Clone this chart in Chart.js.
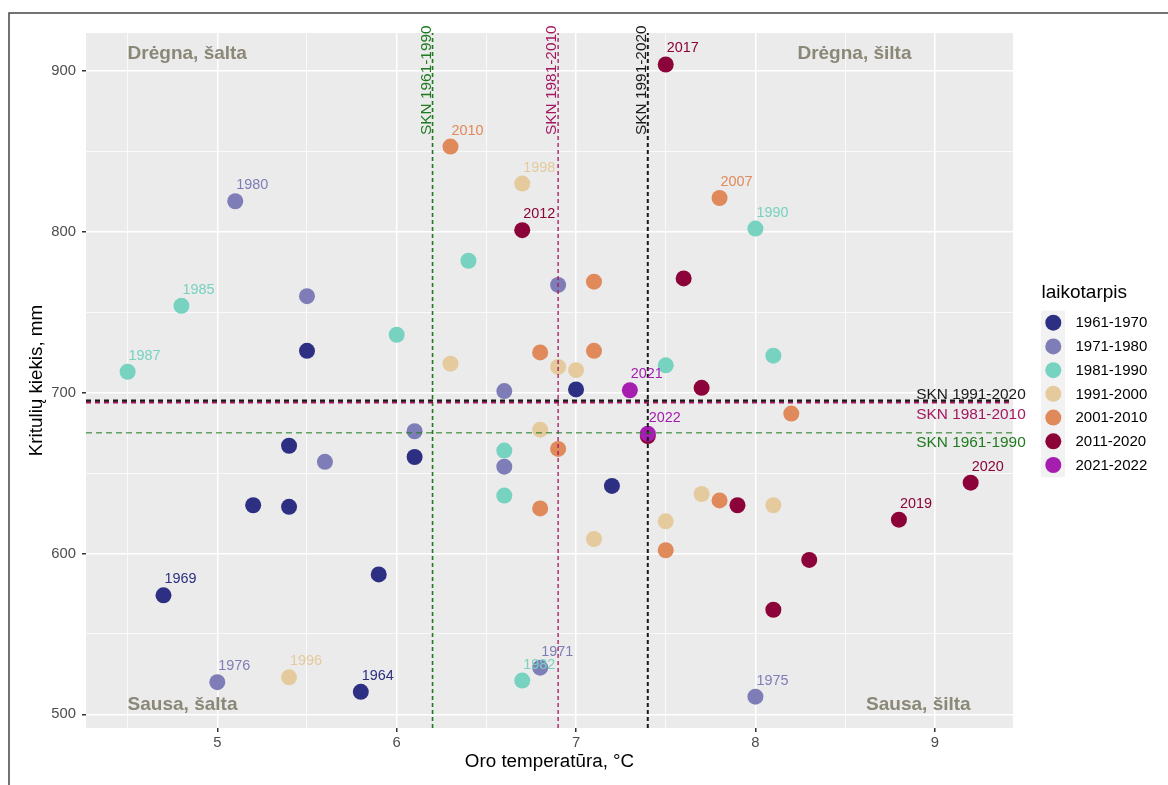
<!DOCTYPE html>
<html>
<head>
<meta charset="utf-8">
<script src="https://cdn.jsdelivr.net/npm/chart.js@4.4.1/dist/chart.umd.min.js"></script>
<style>
  html, body { margin: 0; padding: 0; background: #ffffff; }
  canvas { display: block; }
</style>
</head>
<body>
<canvas id="chart" width="1168" height="785"></canvas>
<script>
const FONT = '"Liberation Sans", Arial, Helvetica, sans-serif';

// Periods (decades) and their colours
const periods = ['1961-1970', '1971-1980', '1981-1990', '1991-2000', '2001-2010', '2011-2020', '2021-2022'];
const periodColors = ['#2C2F82', '#7E7DB7', '#77D2BF', '#E4CA9C', '#E0895A', '#8C0339', '#A51EB0'];

// Annual mean air temperature (°C), annual precipitation (mm), printed year labels
const temp6170 = [5.5, 5.4, 5.2, 5.4, 6.1, 7.0, 7.2, 4.7, 5.9, 5.8];
const prcp6170 = [726, 667, 630, 629, 660, 702, 642, 574, 587, 514];
const year6170 = ['', '', '', '', '', '', '', '1969', '', '1964'];

const temp7180 = [5.1, 5.5, 6.9, 6.6, 6.1, 5.6, 6.6, 5.0, 6.8, 8.0];
const prcp7180 = [819, 760, 767, 701, 676, 657, 654, 520, 529, 511];
const year7180 = ['1980', '', '', '', '', '', '', '1976', '1971', '1975'];

const temp8190 = [4.8, 4.5, 6.0, 6.4, 8.0, 7.5, 8.1, 6.6, 6.6, 6.7];
const prcp8190 = [754, 713, 736, 782, 802, 717, 723, 664, 636, 521];
const year8190 = ['1985', '1987', '', '', '1990', '', '', '', '', '1982'];

const temp9100 = [6.7, 6.3, 6.9, 7.0, 6.8, 7.7, 8.1, 7.5, 7.1, 5.4];
const prcp9100 = [830, 718, 716, 714, 677, 637, 630, 620, 609, 523];
const year9100 = ['1998', '', '', '', '', '', '', '', '', '1996'];

const temp0110 = [6.3, 7.8, 7.1, 7.1, 6.8, 6.9, 6.8, 7.8, 8.2, 7.5];
const prcp0110 = [853, 821, 769, 726, 725, 665, 628, 633, 687, 602];
const year0110 = ['2010', '2007', '', '', '', '', '', '', '', ''];

const temp1120 = [7.5, 6.7, 7.6, 7.7, 7.9, 7.4, 9.2, 8.8, 8.3, 8.1];
const prcp1120 = [904, 801, 771, 703, 630, 673, 644, 621, 596, 565];
const year1120 = ['2017', '2012', '', '', '', '', '2020', '2019', '', ''];

const temp2122 = [7.3, 7.4];
const prcp2122 = [701.5, 674.5];
const year2122 = ['2021', '2022'];

const temps = [temp6170, temp7180, temp8190, temp9100, temp0110, temp1120, temp2122];
const prcps = [prcp6170, prcp7180, prcp8190, prcp9100, prcp0110, prcp1120, prcp2122];
const years = [year6170, year7180, year8190, year9100, year0110, year1120, year2122];

// Climate standard normals (SKN)
const normalNames = ['SKN 1961-1990', 'SKN 1981-2010', 'SKN 1991-2020'];
const normalTemp = [6.2, 6.9, 7.4];
const normalPrcp = [675, 694, 695];
const normalColors = ['#1F7A1F', '#A3175F', '#1A1A1A'];

// Quadrant captions
const quadrantText = ['Drėgna, šalta', 'Drėgna, šilta', 'Sausa, šalta', 'Sausa, šilta'];

// Axis ranges
const X_MIN = 4.268, X_MAX = 9.436;
const Y_MIN = 491.5, Y_MAX = 923.6;

// ---- styling ----
const normalStyle = {
  v: [{ w: 1.6, dash: [4, 3] }, { w: 1.3, dash: [4, 3] }, { w: 2, dash: [4, 3] }],
  h: [{ w: 1, dash: [6, 4] }, { w: 2.2, dash: [5, 4] }, { w: 2.2, dash: [5, 4] }]
};

const datasets = [];
periods.forEach((p, i) => {
  datasets.push({
    type: 'scatter',
    label: p,
    data: temps[i].map((t, k) => ({ x: t, y: prcps[i][k] })),
    yearLabels: years[i],
    backgroundColor: periodColors[i],
    borderWidth: 0,
    pointRadius: 8,
    pointHoverRadius: 8,
    order: 20 - i
  });
});
normalNames.forEach((n, k) => {
  datasets.push({
    type: 'line', label: n + ' T', isNormal: true,
    data: [{ x: normalTemp[k], y: Y_MIN }, { x: normalTemp[k], y: Y_MAX }],
    borderColor: normalColors[k], borderWidth: normalStyle.v[k].w, borderDash: normalStyle.v[k].dash,
    pointRadius: 0, showLine: true, fill: false, order: 5 - k
  });
  datasets.push({
    type: 'line', label: n + ' P', isNormal: true,
    data: [{ x: X_MIN, y: normalPrcp[k] }, { x: X_MAX, y: normalPrcp[k] }],
    borderColor: normalColors[k], borderWidth: normalStyle.h[k].w, borderDash: normalStyle.h[k].dash,
    pointRadius: 0, showLine: true, fill: false, order: 2 - k
  });
});

const isWhole = (v, step) => Math.abs(v / step - Math.round(v / step)) < 1e-6;

const panelPlugin = {
  id: 'panel',
  beforeDraw(chart) {
    const { ctx, chartArea: a } = chart;
    ctx.save();
    ctx.fillStyle = '#EBEBEB';
    ctx.fillRect(a.left, a.top, a.right - a.left, a.bottom - a.top);
    ctx.restore();
  }
};

const annotationsPlugin = {
  id: 'annotations',
  beforeDatasetsDraw(chart) {
    const { ctx, scales: { x, y } } = chart;
    ctx.save();
    ctx.font = 'bold 19px ' + FONT;
    ctx.fillStyle = '#8B8878';
    ctx.textBaseline = 'middle';
    const spots = [
      { x: 4.5, y: 910.4, align: 'left' },
      { x: 8.87, y: 910.4, align: 'right' },
      { x: 4.5, y: 506.1, align: 'left' },
      { x: 9.2, y: 506.1, align: 'right' }
    ];
    quadrantText.forEach((t, i) => {
      ctx.textAlign = spots[i].align;
      ctx.fillText(t, x.getPixelForValue(spots[i].x), y.getPixelForValue(spots[i].y));
    });
    ctx.restore();
  },
  afterDatasetsDraw(chart) {
    const { ctx, scales: { x, y } } = chart;
    ctx.save();
    // year labels next to points
    ctx.font = '14.4px ' + FONT;
    ctx.textAlign = 'left';
    ctx.textBaseline = 'middle';
    chart.data.datasets.forEach((ds, di) => {
      if (!ds.yearLabels) return;
      const meta = chart.getDatasetMeta(di);
      ctx.fillStyle = ds.backgroundColor;
      meta.data.forEach((pt, k) => {
        const lab = ds.yearLabels[k];
        if (lab) ctx.fillText(lab, pt.x + 1, pt.y - 16);
      });
    });
    // normal labels: vertical (rotated) beside temperature lines
    ctx.font = '15.4px ' + FONT;
    normalNames.forEach((n, k) => {
      ctx.save();
      ctx.fillStyle = normalColors[k];
      ctx.translate(x.getPixelForValue(normalTemp[k]) - 2, y.getPixelForValue(928.3));
      ctx.rotate(-Math.PI / 2);
      ctx.textAlign = 'right';
      ctx.textBaseline = 'alphabetic';
      ctx.fillText(n, 0, 0);
      ctx.restore();
    });
    // normal labels: horizontal, at right edge
    const hLabelY = [666.2, 683.4, 696.3];
    ctx.textAlign = 'right';
    ctx.textBaseline = 'alphabetic';
    normalNames.forEach((n, k) => {
      ctx.fillStyle = normalColors[k];
      ctx.fillText(n, x.getPixelForValue(9.507), y.getPixelForValue(hLabelY[k]));
    });
    ctx.restore();
  }
};

const legendPlugin = {
  id: 'periodLegend',
  afterDraw(chart) {
    const { ctx } = chart;
    ctx.save();
    ctx.fillStyle = '#000';
    ctx.font = '19px ' + FONT;
    ctx.textAlign = 'left';
    ctx.textBaseline = 'middle';
    ctx.fillText('laikotarpis', 1041.5, 292.7);
    ctx.fillStyle = '#F2F2F2';
    ctx.fillRect(1041, 310.7, 24, 166.6);
    ctx.font = '15px ' + FONT;
    const items = chart.data.datasets.filter(d => d.yearLabels);
    items.forEach((d, i) => {
      const cy = 322.7 + i * 23.72;
      ctx.beginPath();
      ctx.fillStyle = d.backgroundColor;
      ctx.arc(1053.3, cy, 8, 0, Math.PI * 2);
      ctx.fill();
      ctx.fillStyle = '#000';
      ctx.fillText(d.label, 1075.5, cy + 0.5);
    });
    // outer frame
    ctx.strokeStyle = '#454545';
    ctx.lineWidth = 1.5;
    ctx.beginPath();
    ctx.moveTo(9, 785);
    ctx.lineTo(9, 13);
    ctx.lineTo(1168, 13);
    ctx.stroke();
    ctx.restore();
  }
};

new Chart(document.getElementById('chart'), {
  type: 'scatter',
  data: { datasets },
  options: {
    responsive: false,
    animation: false,
    events: [],
    layout: { padding: { left: 21.8, top: 33, right: 155, bottom: 7.5 } },
    plugins: { legend: { display: false }, tooltip: { enabled: false } },
    scales: {
      x: {
        type: 'linear', min: X_MIN, max: X_MAX,
        afterFit(s) { s.height = 49.5; },
        border: { display: false },
        grid: {
          color: '#FFFFFF',
          lineWidth: c => (c.tick && isWhole(c.tick.value, 1)) ? 1.5 : 0.75,
          tickColor: c => (c.tick && isWhole(c.tick.value, 1)) ? '#333333' : 'rgba(0,0,0,0)',
          tickLength: 4, drawTicks: true
        },
        ticks: {
          stepSize: 0.5, includeBounds: false, autoSkip: false, maxRotation: 0,
          padding: 2, color: '#4D4D4D', font: { family: FONT, size: 14.8 },
          callback: v => isWhole(v, 1) ? String(v) : ''
        },
        title: {
          display: true, text: 'Oro temperatūra, °C', color: '#000000',
          font: { family: FONT, size: 18.8 }, padding: { top: 0, bottom: 4 }
        }
      },
      y: {
        type: 'linear', min: Y_MIN, max: Y_MAX,
        afterFit(s) { s.width = 64.2; },
        border: { display: false },
        grid: {
          color: '#FFFFFF',
          lineWidth: c => (c.tick && isWhole(c.tick.value, 100)) ? 1.5 : 0.75,
          tickColor: c => (c.tick && isWhole(c.tick.value, 100)) ? '#333333' : 'rgba(0,0,0,0)',
          tickLength: 4, drawTicks: true
        },
        ticks: {
          stepSize: 50, includeBounds: false, autoSkip: false,
          padding: 6, color: '#4D4D4D', font: { family: FONT, size: 14.8 },
          callback: v => isWhole(v, 100) ? String(v) : ''
        },
        title: {
          display: true, text: 'Kritulių kiekis, mm', color: '#000000',
          font: { family: FONT, size: 18.8 }, padding: { top: 4, bottom: 0 }
        }
      }
    }
  },
  plugins: [panelPlugin, annotationsPlugin, legendPlugin]
});
</script>
</body>
</html>
